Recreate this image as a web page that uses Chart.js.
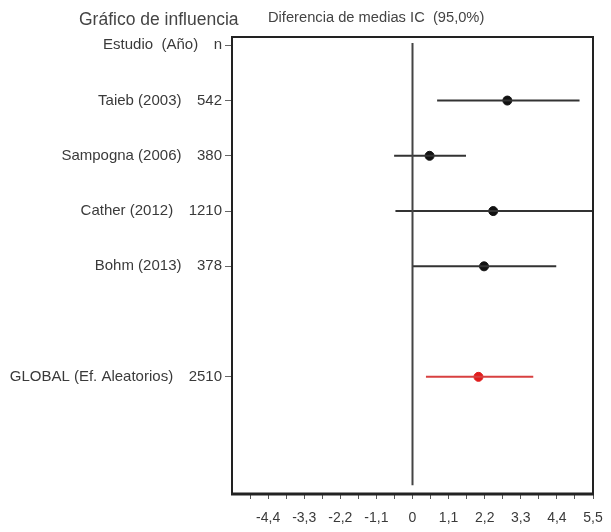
<!DOCTYPE html>
<html>
<head>
<meta charset="utf-8">
<script src="https://cdn.jsdelivr.net/npm/chart.js@4"></script>
<style>
  body { margin: 0; background: #fff; }
</style>
</head>
<body>
<canvas id="chart" width="611" height="532"></canvas>
<script>
// rows of the forest plot (0 = header, 5 left empty)
const rowNames = ['Estudio  (Año)', 'Taieb (2003)', 'Sampogna (2006)', 'Cather (2012)', 'Bohm (2013)', 'GLOBAL (Ef. Aleatorios)'];
const rowN = ['n', '542', '380', '1210', '378', '2510'];
const rowPos = [0, 1, 2, 3, 4, 6];

// study estimates (difference of means, 95% CI)
const studyRows = [1, 2, 3, 4];
const studyMean = [2.89, 0.52, 2.46, 2.18];
const studyLow = [0.75, -0.56, -0.52, 0.01];
const studyHigh = [5.09, 1.63, 5.5, 4.38];

// pooled estimate
const globalRow = 6;
const globalMean = 2.01;
const globalLow = 0.41;
const globalHigh = 3.68;

// x axis ticks
const xMajor = [-4.4, -3.3, -2.2, -1.1, 0, 1.1, 2.2, 3.3, 4.4, 5.5];
const xMinor = [-4.95, -3.85, -2.75, -1.65, -0.55, 0.55, 1.65, 2.75, 3.85, 4.95];

const textColor = '#3a3a3a';
const lineColor = '#333';
const fontFamily = '"Liberation Sans", Arial, sans-serif';

let datasets = [];

// null effect line
datasets.push({
  type: 'line',
  data: [{x: 0, y: -0.04}, {x: 0, y: 7.96}],
  borderColor: '#444',
  borderWidth: 2,
  pointRadius: 0
});

studyRows.forEach(function(r, i) {
  datasets.push({
    type: 'line',
    data: [{x: studyLow[i], y: r}, {x: studyHigh[i], y: r}],
    borderColor: lineColor,
    borderWidth: 2,
    pointRadius: 0
  });
});

datasets.push({
  type: 'line',
  data: [{x: globalLow, y: globalRow}, {x: globalHigh, y: globalRow}],
  borderColor: '#d84040',
  borderWidth: 2,
  pointRadius: 0
});

datasets.push({
  type: 'scatter',
  data: studyRows.map(function(r, i) { return {x: studyMean[i], y: r}; }),
  backgroundColor: '#111',
  borderColor: '#111',
  pointRadius: 4.5
});

datasets.push({
  type: 'scatter',
  data: [{x: globalMean, y: globalRow}],
  backgroundColor: '#e01c1c',
  borderColor: '#e01c1c',
  pointRadius: 4.5
});

const frame = {
  id: 'frame',
  afterDraw(chart) {
    const ctx = chart.ctx;
    const a = chart.chartArea;
    ctx.save();
    ctx.strokeStyle = '#222';
    ctx.lineWidth = 2;
    ctx.strokeRect(a.left, a.top, a.right - a.left, a.bottom - a.top);
    ctx.lineWidth = 3;
    ctx.beginPath();
    ctx.moveTo(a.left - 1, a.bottom);
    ctx.lineTo(a.right + 1, a.bottom);
    ctx.stroke();

    ctx.fillStyle = '#444';
    ctx.textBaseline = 'alphabetic';
    ctx.font = '17.5px ' + fontFamily;
    ctx.fillText('Gráfico de influencia', 79, 25);
    ctx.font = '14.7px ' + fontFamily;
    ctx.fillText('Diferencia de medias IC  (95,0%)', 268, 22);
    ctx.restore();
  }
};

new Chart(document.getElementById('chart'), {
  data: { datasets: datasets },
  options: {
    responsive: false,
    animation: false,
    layout: { padding: { top: 37, right: 18, left: 0, bottom: 0 } },
    plugins: {
      legend: { display: false },
      tooltip: { enabled: false }
    },
    scales: {
      x: {
        type: 'linear',
        position: 'bottom',
        min: -5.5,
        max: 5.5,
        afterBuildTicks: function(scale) {
          scale.ticks = xMinor.concat(xMajor).sort(function(a, b) { return a - b; })
            .map(function(v) { return {value: v}; });
        },
        afterFit: function(scale) {
          scale.height = 38;
          scale.paddingLeft = 0;
          scale.paddingRight = 0;
        },
        ticks: {
          autoSkip: false,
          maxRotation: 0,
          padding: 11,
          color: textColor,
          font: { family: fontFamily, size: 14 },
          callback: function(v) {
            const isMajor = xMajor.some(function(m) { return Math.abs(m - v) < 1e-6; });
            return isMajor ? String(v).replace('.', ',') : '';
          }
        },
        grid: { drawOnChartArea: false, tickLength: 5, color: '#555' },
        border: { display: false }
      },
      y: {
        type: 'linear',
        position: 'left',
        reverse: true,
        min: -0.15,
        max: 8.12,
        afterBuildTicks: function(scale) {
          scale.ticks = rowPos.map(function(v) { return {value: v}; });
        },
        afterFit: function(scale) { scale.width = 232; },
        ticks: {
          padding: 3,
          color: textColor,
          font: { family: fontFamily, size: 15 },
          callback: function(v) {
            const i = rowPos.indexOf(v);
            return i < 0 ? '' : rowNames[i] + '   \u2009' + rowN[i];
          }
        },
        grid: { drawOnChartArea: false, tickLength: 7, color: '#666' },
        border: { display: false }
      }
    }
  },
  plugins: [frame]
});
</script>
</body>
</html>
